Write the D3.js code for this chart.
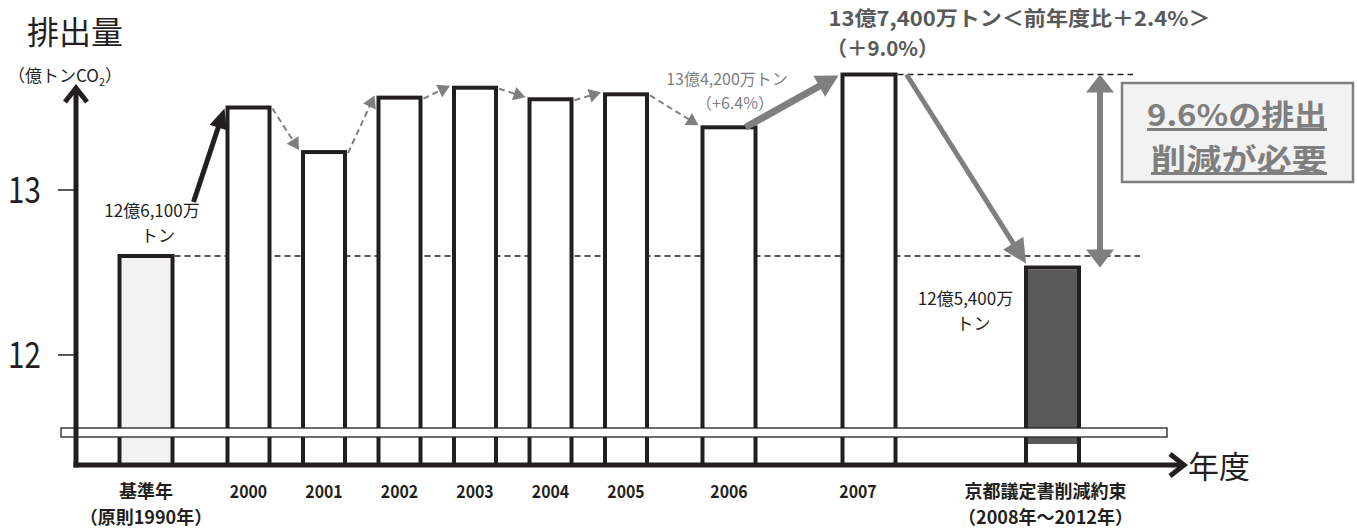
<!DOCTYPE html>
<html>
<head>
<meta charset="utf-8">
<script src="https://cdn.jsdelivr.net/npm/d3@7"></script>
<style>
body { margin: 0; background: #fff; }
text { font-family: "Noto Sans CJK JP", sans-serif; fill: #231f20; }
</style>
</head>
<body>
<div id="chart"></div>
<script>
// data
var categories = ["基準年", "2000", "2001", "2002", "2003", "2004", "2005", "2006", "2007", "京都議定書削減約束"];
var subLabels = ["（原則1990年）", "", "", "", "", "", "", "", "", "（2008年～2012年）"];
var values = [12.60, 13.50, 13.23, 13.56, 13.62, 13.55, 13.58, 13.38, 13.70, 12.53];
var yTicks = [12, 13];

var width = 1357, height = 532;
var ink = "#231f20", gray = "#7f7f7f";

var svg = d3.select("#chart").append("svg")
  .attr("width", width)
  .attr("height", height);

// broken axis: positions of bars are not evenly spread
var x = d3.scaleLinear()
  .domain([0, 1, 6, 7, 8, 9])
  .range([146, 248.5, 626, 729, 869, 1052.5]);
var y = d3.scaleLinear()
  .domain([11.333, 13])
  .range([465, 190]);

var axisX = 76, baseY = y(11.333);

function barW(i) { return (i >= 1 && i <= 6) ? 46 : 57; }

// squeeze text to mimic the condensed face of the original
function condense(sel, k) {
  sel.each(function() {
    var w = this.getComputedTextLength();
    if (w > 0) d3.select(this).attr("textLength", w * k).attr("lengthAdjust", "spacingAndGlyphs");
  });
}

function arrow(g, x1, y1, x2, y2, o) {
  var dx = x2 - x1, dy = y2 - y1, L = Math.hypot(dx, dy), ux = dx / L, uy = dy / L;
  var bx = x2 - ux * o.head, by = y2 - uy * o.head;
  g.append("line")
    .attr("x1", x1).attr("y1", y1).attr("x2", bx + ux * 2).attr("y2", by + uy * 2)
    .attr("stroke", o.color).attr("stroke-width", o.w)
    .attr("stroke-dasharray", o.dash || null);
  g.append("path")
    .attr("d", "M" + x2 + "," + y2 + "L" + (bx - uy * o.hw) + "," + (by + ux * o.hw) +
      "L" + (bx + uy * o.hw) + "," + (by - ux * o.hw) + "Z")
    .attr("fill", o.color);
}

var left = function(i) { return x(i) - barW(i) / 2; };
var right = function(i) { return x(i) + barW(i) / 2; };

// dashed reference lines
svg.append("line")
  .attr("x1", right(0)).attr("x2", 1140)
  .attr("y1", y(values[0])).attr("y2", y(values[0]))
  .attr("stroke", ink).attr("stroke-width", 1.5).attr("stroke-dasharray", "6,4");
svg.append("line")
  .attr("x1", right(8)).attr("x2", 1133)
  .attr("y1", y(values[8])).attr("y2", y(values[8]))
  .attr("stroke", ink).attr("stroke-width", 1.5).attr("stroke-dasharray", "6,4");

// bars
var bars = svg.append("g");
bars.selectAll("rect.bar")
  .data(values)
  .enter().append("rect")
  .attr("class", "bar")
  .attr("x", function(d, i) { return left(i) + 2; })
  .attr("width", function(d, i) { return barW(i) - 4; })
  .attr("y", function(d) { return y(d); })
  .attr("height", function(d) { return baseY - y(d); })
  .attr("fill", function(d, i) { return i === 0 ? "#f2f2f2" : "#fff"; })
  .attr("stroke", ink)
  .attr("stroke-width", 4);

// kyoto target fill
bars.append("rect")
  .attr("x", left(9) + 4).attr("width", barW(9) - 8)
  .attr("y", y(values[9]) + 2).attr("height", 444 - y(values[9]) - 2)
  .attr("fill", "#595959");

// break band
svg.append("rect")
  .attr("x", 61).attr("y", 428).attr("width", 1106).attr("height", 9)
  .attr("fill", "#fff").attr("stroke", ink).attr("stroke-width", 1.3);

// axes
svg.append("line")
  .attr("x1", axisX).attr("x2", axisX).attr("y1", baseY + 2.5).attr("y2", 88)
  .attr("stroke", ink).attr("stroke-width", 5);
svg.append("path")
  .attr("d", "M" + (axisX - 11) + ",102L" + axisX + ",88L" + (axisX + 11) + ",102")
  .attr("fill", "none").attr("stroke", ink).attr("stroke-width", 5);
svg.append("line")
  .attr("x1", axisX - 2.5).attr("x2", 1184).attr("y1", baseY).attr("y2", baseY)
  .attr("stroke", ink).attr("stroke-width", 5);
svg.append("path")
  .attr("d", "M1170," + (baseY - 11) + "L1184," + baseY + "L1170," + (baseY + 11))
  .attr("fill", "none").attr("stroke", ink).attr("stroke-width", 5);

svg.selectAll("line.tick")
  .data(yTicks)
  .enter().append("line")
  .attr("class", "tick")
  .attr("x1", axisX - 18).attr("x2", axisX)
  .attr("y1", function(d) { return y(d); }).attr("y2", function(d) { return y(d); })
  .attr("stroke", ink).attr("stroke-width", 1.5);
svg.selectAll("text.ytick")
  .data(yTicks)
  .enter().append("text")
  .attr("class", "ytick")
  .attr("x", 8).attr("y", function(d) { return y(d) + 13; })
  .attr("font-size", 36)
  .text(function(d) { return d; })
  .call(condense, 0.82);

// axis titles
svg.append("text").attr("x", 27).attr("y", 44).attr("font-size", 32).text("排出量");
var unit = svg.append("text").attr("x", 8).attr("y", 82).attr("font-size", 17);
unit.append("tspan").text("（億トンCO");
unit.append("tspan").attr("font-size", 11).attr("dy", 4).text("2");
unit.append("tspan").attr("dy", -4).text("）");
svg.append("text").attr("x", 1188).attr("y", 478).attr("font-size", 31).text("年度");

// category labels
function labelDx(i) { return i === 8 ? -11 : (i === 9 ? -7 : 0); }
svg.selectAll("text.cat")
  .data(categories)
  .enter().append("text")
  .attr("class", "cat")
  .attr("x", function(d, i) { return x(i) + labelDx(i); })
  .attr("y", 498)
  .attr("text-anchor", "middle")
  .attr("font-size", 18).attr("font-weight", "bold")
  .text(function(d) { return d; })
  .filter(function(d) { return /^\d+$/.test(d); })
  .call(condense, 0.88);
svg.selectAll("text.sub")
  .data(subLabels)
  .enter().append("text")
  .attr("class", "sub")
  .attr("x", function(d, i) { return x(i) + labelDx(i); })
  .attr("y", 524)
  .attr("text-anchor", "middle")
  .attr("font-size", 18).attr("font-weight", "bold")
  .text(function(d) { return d; });

// arrows
var arrows = svg.append("g");
arrow(arrows, left(1) - 32, y(values[0]) - 54, left(1) - 1, y(values[1]) + 1,
  { color: ink, w: 5, head: 20, hw: 9 });
for (var i = 1; i < 7; i++) {
  arrow(arrows, right(i) + 1, y(values[i]) + 1, left(i + 1) - 2, y(values[i + 1]) - 2,
    { color: gray, w: 2, head: 12, hw: 7, dash: "6,4" });
}
arrow(arrows, right(7) - 12, y(values[7]), left(8) - 2, y(values[8]) + 1,
  { color: gray, w: 7, head: 22, hw: 12 });
arrow(arrows, right(8) + 9, y(values[8]), left(9) + 2, y(values[9]) - 4,
  { color: gray, w: 5, head: 24, hw: 12 });
arrow(arrows, 1100, (y(values[8]) + y(values[9])) / 2, 1100, y(values[8]),
  { color: gray, w: 6, head: 18, hw: 14 });
arrow(arrows, 1100, (y(values[8]) + y(values[9])) / 2, 1100, y(values[9]),
  { color: gray, w: 6, head: 18, hw: 14 });

// value annotations
svg.append("text").attr("x", x(0) + 6).attr("y", y(values[0]) - 39)
  .attr("text-anchor", "middle").attr("font-size", 17).text("12億6,100万");
svg.append("text").attr("x", x(0) + 12).attr("y", y(values[0]) - 14)
  .attr("text-anchor", "middle").attr("font-size", 17).text("トン");

svg.append("text").attr("x", x(7) - 2).attr("y", y(values[7]) - 42)
  .attr("text-anchor", "middle").attr("font-size", 16).style("fill", gray).text("13億4,200万トン");
svg.append("text").attr("x", x(7) + 6).attr("y", y(values[7]) - 18)
  .attr("text-anchor", "middle").attr("font-size", 16).style("fill", gray).text("（+6.4%）");

svg.append("text").attr("x", left(8) - 12).attr("y", 26)
  .attr("font-size", 20.5).attr("font-weight", "bold").style("fill", "#595959")
  .attr("textLength", 382).attr("lengthAdjust", "spacingAndGlyphs")
  .text("13億7,400万トン＜前年度比＋2.4%＞");
svg.append("text").attr("x", left(8) - 14).attr("y", 56)
  .attr("font-size", 20.5).attr("font-weight", "bold").style("fill", "#595959")
  .text("（＋9.0%）");

svg.append("text").attr("x", x(9) - 87).attr("y", y(values[9]) + 37)
  .attr("text-anchor", "middle").attr("font-size", 17).text("12億5,400万");
svg.append("text").attr("x", x(9) - 79).attr("y", y(values[9]) + 62)
  .attr("text-anchor", "middle").attr("font-size", 17).text("トン");

// reduction box
svg.append("rect")
  .attr("x", 1122).attr("y", 83).attr("width", 231).attr("height", 99)
  .attr("fill", "#f2f2f2").attr("stroke", gray).attr("stroke-width", 2.5);
svg.append("text").attr("x", 1147).attr("y", 126)
  .attr("font-size", 30).attr("font-weight", "bold")
  .attr("textLength", 180).attr("lengthAdjust", "spacingAndGlyphs")
  .attr("text-decoration", "underline").style("fill", gray).text("9.6%の排出");
svg.append("text").attr("x", 1151).attr("y", 170)
  .attr("font-size", 30).attr("font-weight", "bold")
  .attr("textLength", 176).attr("lengthAdjust", "spacingAndGlyphs")
  .attr("text-decoration", "underline").style("fill", gray).text("削減が必要");
</script>
</body>
</html>
